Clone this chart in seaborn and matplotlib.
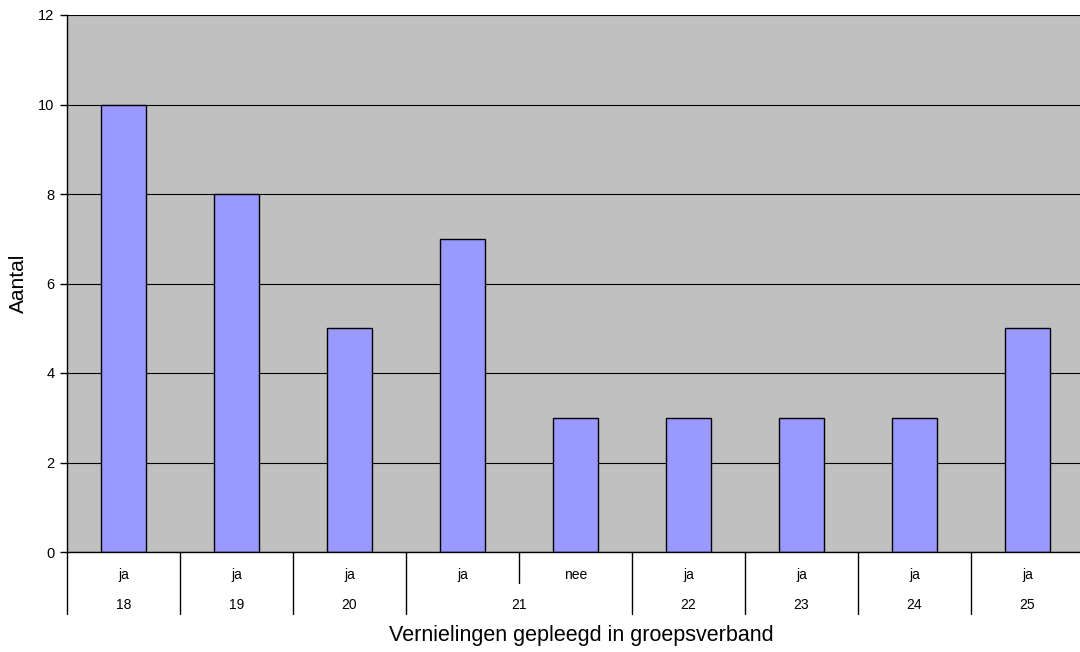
import pandas as pd
import numpy as np
import matplotlib
matplotlib.use('Agg')
import matplotlib.pyplot as plt
import seaborn as sns

# Gegevens
leeftijd = ['18', '19', '20', '21', '21', '22', '23', '24', '25']
groep = ['ja', 'ja', 'ja', 'ja', 'nee', 'ja', 'ja', 'ja', 'ja']
aantal = [10, 8, 5, 7, 3, 3, 3, 3, 5]

df = pd.DataFrame({'leeftijd': leeftijd, 'groep': groep, 'aantal': aantal})
df['cat'] = df['leeftijd'] + ' ' + df['groep']

sns.set_style('white')
plt.rcParams['font.family'] = ['Liberation Sans', 'DejaVu Sans']
plt.rcParams['text.color'] = 'black'
plt.rcParams['axes.labelcolor'] = 'black'
plt.rcParams['ytick.color'] = 'black'

fig = plt.figure(figsize=(10.8, 6.52), dpi=100)
ax = fig.add_axes([67/1080, 100/652, 1017/1080, 537/652])
ax.set_facecolor('#C0C0C0')

sns.barplot(data=df, x='cat', y='aantal', color='#9999FF', width=0.4,
            edgecolor='black', linewidth=1, saturation=1, ax=ax)

ax.set_ylim(0, 12)
ax.set_xlim(-0.5, len(df) - 0.5)
ax.set_yticks(np.arange(0, 13, 2))
ax.yaxis.grid(True, color='black', linewidth=0.8)
ax.set_axisbelow(True)

for s in ['top', 'right']:
    ax.spines[s].set_visible(False)
ax.spines['left'].set_color('black')
ax.spines['bottom'].set_color('black')
ax.spines['left'].set_linewidth(1)
ax.spines['bottom'].set_linewidth(1)

ax.tick_params(axis='y', left=True, length=5, width=1, color='black',
               labelcolor='black', labelsize=10.5, pad=4)
ax.tick_params(axis='x', bottom=False, labelbottom=False)
ax.set_xlabel('')
ax.set_ylabel('')

# y-as titel
fig.text(18/1080, 1 - 283/652, 'Aantal', rotation=90, ha='center', va='center',
         fontsize=15, color='black')

# Categorie-as met twee niveaus
trans = ax.get_xaxis_transform()
n = len(df)
for i in range(n + 1):
    x = i - 0.5
    if 0 < i < n and leeftijd[i] == leeftijd[i - 1]:
        y_end = -31/537
    else:
        y_end = -62/537
    ax.plot([x, x], [0, y_end], color='black', linewidth=1, transform=trans, clip_on=False)

for i, g in enumerate(groep):
    ax.text(i, -23/537, g, transform=trans, ha='center', va='center', fontsize=10, color='black')

pos = df.reset_index().groupby('leeftijd', sort=False)['index'].mean()
for age, x in pos.items():
    ax.text(x, -53/537, age, transform=trans, ha='center', va='center', fontsize=10, color='black')

fig.text(581/1080, 1 - 636/652, 'Vernielingen gepleegd in groepsverband',
         ha='center', va='center', fontsize=15.5, color='black')

fig.savefig('out.png', dpi=100)
